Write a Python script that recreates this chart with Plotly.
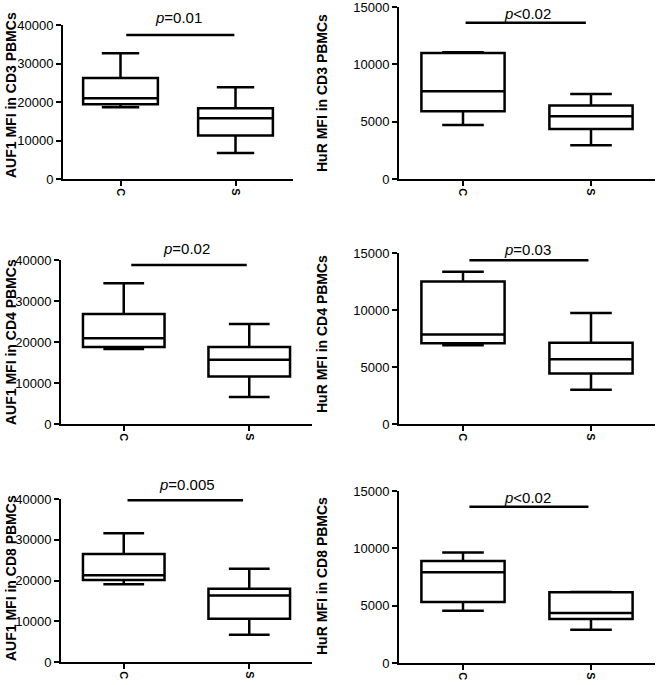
import plotly.graph_objects as go

# ---- data ----
groups = ["C", "S"]

# panel order: AUF1 CD3, HuR CD3, AUF1 CD4, HuR CD4, AUF1 CD8, HuR CD8
titles = [
    "AUF1 MFI in CD3 PBMCs", "HuR MFI in CD3 PBMCs",
    "AUF1 MFI in CD4 PBMCs", "HuR MFI in CD4 PBMCs",
    "AUF1 MFI in CD8 PBMCs", "HuR MFI in CD8 PBMCs",
]
p_labels = ["<i>p</i>=0.01", "<i>p</i><0.02", "<i>p</i>=0.02",
            "<i>p</i>=0.03", "<i>p</i>=0.005", "<i>p</i><0.02"]

lower_fence = [[18660, 6740], [4710, 2940], [18300, 6570],
               [6900, 3010], [19060, 6700], [4550, 2900]]
q1_vals = [[19440, 11300], [5900, 4360], [18800, 11600],
           [7080, 4420], [20100, 10600], [5310, 3830]]
median_vals = [[21000, 15800], [7650, 5470], [20900, 15700],
               [7840, 5670], [21300, 16300], [7920, 4350]]
q3_vals = [[26260, 18400], [10990, 6420], [26800, 18800],
           [12510, 7130], [26500, 18000], [8900, 6170]]
upper_fence = [[32660, 23840], [11050, 7410], [34300, 24400],
               [13360, 9740], [31600, 22900], [9630, 6190]]

sig_y = [37400, 13630, 38800, 14360, 39700, 13630]
sig_x0 = [0.05, 0.02, 0.06, 0.05, 0.03, 0.05]
sig_x1 = [0.99, 0.96, 0.98, 0.98, 0.95, 0.98]

y_max = [40000, 15000, 40000, 15000, 40000, 15000]
y_dtick = [10000, 5000, 10000, 5000, 10000, 5000]

# ---- layout geometry (pixels in the 660x685 window) ----
W, H = 660, 685


def px_x(p):
    return min(1.0, max(0.0, p / W))


def px_y(p):
    return min(1.0, max(0.0, 1 - p / H))


x_px = [(63, 293), (399, 655), (61, 312), (399, 655), (61, 312), (399, 655)]
y_px = [(25, 179), (7, 179), (260, 424), (253, 424), (499, 662), (491, 663)]
title_x_px = [11, 322, 11, 322, 11, 322]
title_y_px = [95, 93, 342, 334, 578, 576]
p_shift = [18, 9, 16, 11, 16, 9]

FONT = "Liberation Sans, Arial, sans-serif"

fig = go.Figure()
layout = {}
shapes = []
annotations = []

for i in range(6):
    n = i + 1
    xa = "x" if n == 1 else f"x{n}"
    ya = "y" if n == 1 else f"y{n}"
    fig.add_trace(go.Box(
        x=groups,
        q1=q1_vals[i], median=median_vals[i], q3=q3_vals[i],
        lowerfence=lower_fence[i], upperfence=upper_fence[i],
        width=0.65, whiskerwidth=0.5,
        line=dict(color="black", width=2.5),
        fillcolor="rgba(255,255,255,0)",
        boxpoints=False, showlegend=False, hoverinfo="skip",
        xaxis=xa, yaxis=ya,
    ))
    xk = "xaxis" if n == 1 else f"xaxis{n}"
    yk = "yaxis" if n == 1 else f"yaxis{n}"
    x0p, x1p = x_px[i]
    y0p, y1p = y_px[i]
    layout[xk] = dict(
        domain=[px_x(x0p), px_x(x1p)], anchor=ya, type="category",
        range=[-0.5, 1.5], showline=True, linecolor="black", linewidth=2,
        ticks="outside", ticklen=5, tickwidth=2, tickcolor="black",
        tickangle=90, showgrid=False, zeroline=False, automargin=False,
        ticklabeloverflow="allow",
        tickfont=dict(family=FONT, size=11, color="black", weight="bold"),
    )
    layout[yk] = dict(
        domain=[px_y(y1p), px_y(y0p)], anchor=xa,
        range=[0, y_max[i]], dtick=y_dtick[i], tick0=0, tickformat="d",
        showline=True, linecolor="black", linewidth=2,
        ticks="outside", ticklen=5, tickwidth=2, tickcolor="black",
        showgrid=False, zeroline=False, automargin=False,
        ticklabeloverflow="allow",
        tickfont=dict(family=FONT, size=13, color="black"),
    )
    shapes.append(dict(
        type="line", xref=xa, yref=ya,
        x0=sig_x0[i], x1=sig_x1[i], y0=sig_y[i], y1=sig_y[i],
        line=dict(color="black", width=2.5),
    ))
    annotations.append(dict(
        xref=xa, yref=ya, x=0.5, y=sig_y[i], yshift=p_shift[i],
        text=p_labels[i], showarrow=False, yanchor="middle",
        font=dict(family=FONT, size=15, color="black"),
    ))
    annotations.append(dict(
        xref="paper", yref="paper",
        x=px_x(title_x_px[i]), y=px_y(title_y_px[i]),
        text=titles[i], textangle=-90, showarrow=False,
        xanchor="center", yanchor="middle",
        font=dict(family=FONT, size=14, color="black", weight="bold"),
    ))

fig.update_layout(
    template="none",
    width=W, height=H,
    margin=dict(l=0, r=0, t=0, b=0, autoexpand=False),
    paper_bgcolor="white", plot_bgcolor="white",
    shapes=shapes, annotations=annotations,
    **layout,
)

fig.write_html(
    "out.html",
    config={"displayModeBar": False, "staticPlot": True},
    post_script="document.body.style.margin='0';"
                "document.body.style.overflow='hidden';",
)
